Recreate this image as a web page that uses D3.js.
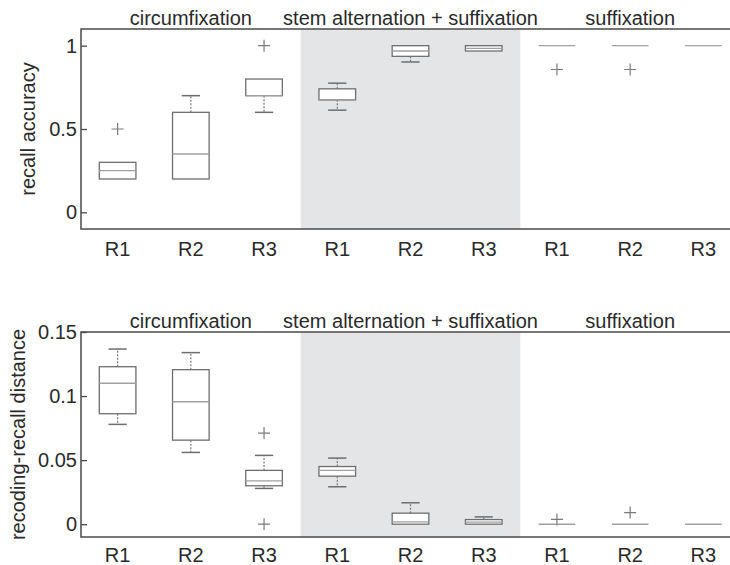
<!DOCTYPE html>
<html>
<head>
<meta charset="utf-8">
<script src="https://cdn.jsdelivr.net/npm/d3@7"></script>
<style>
    body { margin: 0; background: #fff; }
    svg { display: block; font-family: "Liberation Sans", Arial, Helvetica, sans-serif; }
    .tick text, .label, .group-title { fill: #2a2a2a; font-size: 20px; }
</style>
</head>
<body>
<div id="chart"></div>
<script>
// Categories
const groups = ['circumfixation', 'stem alternation + suffixation', 'suffixation'];
const rounds = ['R1', 'R2', 'R3'];
const shadedGroup = 1;

// Recall accuracy (top panel), one value per group x round
const accLow    = [0.20, 0.20, 0.60, 0.613, 0.902, 0.968, 1, 1, 1];
const accQ1     = [0.20, 0.20, 0.70, 0.675, 0.936, 0.968, 1, 1, 1];
const accMedian = [0.25, 0.35, 0.70, 0.675, 0.968, 0.984, 1, 1, 1];
const accQ3     = [0.30, 0.60, 0.80, 0.741, 1.000, 1.000, 1, 1, 1];
const accHigh   = [0.30, 0.70, 0.80, 0.775, 1.000, 1.000, 1, 1, 1];
const accOutliers = [[0.5], [], [1.0], [], [], [], [0.857], [0.857], []];
const accTicks = [0, 0.5, 1];

// Recoding-recall distance (bottom panel)
const distLow    = [0.0779, 0.0560, 0.0279, 0.0292, 0, 0, 0, 0, 0];
const distQ1     = [0.0862, 0.0656, 0.0300, 0.0375, 0, 0, 0, 0, 0];
const distMedian = [0.1100, 0.0956, 0.0338, 0.0420, 0.0018, 0.0016, 0, 0, 0];
const distQ3     = [0.1229, 0.1206, 0.0420, 0.0450, 0.0086, 0.0036, 0, 0, 0];
const distHigh   = [0.1367, 0.1339, 0.0537, 0.0516, 0.0167, 0.0057, 0, 0, 0];
const distOutliers = [[], [], [0.0711, 0], [], [], [], [0.0037], [0.0091], []];
const distTicks = [0, 0.05, 0.1, 0.15];

const config = {
    width: 730,
    height: 565,
    left: 81,
    right: 740,          // plot continues past the window edge, like the source
    colors: {
        band: '#e4e5e7',
        frame: '#4a4a4a',
        box: '#6e6e6e',
        median: '#a0a0a0',
        whisker: '#777',
        outlier: '#7a7a7a'
    }
};

const panels = [
    {
        top: 29, bottom: 229, domain: [-0.1, 1.1], ticks: accTicks,
        label: 'recall accuracy', labelX: 35, xPad: 13,
        low: accLow, q1: accQ1, median: accMedian, q3: accQ3, high: accHigh, outliers: accOutliers
    },
    {
        top: 332, bottom: 537, domain: [-0.01, 0.15], ticks: distTicks,
        label: 'recoding-recall distance', labelX: 25, xPad: 11,
        low: distLow, q1: distQ1, median: distMedian, q3: distQ3, high: distHigh, outliers: distOutliers
    }
];

const categories = [];
groups.forEach((g, gi) => rounds.forEach(r => categories.push({ key: gi + '-' + r, group: gi, round: r })));

const svg = d3.select('#chart')
    .append('svg')
    .attr('width', config.width)
    .attr('height', config.height);

const x = d3.scaleBand()
    .domain(categories.map(d => d.key))
    .range([config.left, config.right])
    .padding(0);

const groupX = d3.scaleBand()
    .domain(groups)
    .range([config.left, config.right])
    .padding(0);

const boxW = x.bandwidth() * 0.5;
const capW = boxW * 0.5;

panels.forEach(p => {
    const y = d3.scaleLinear().domain(p.domain).range([p.bottom, p.top]);
    const g = svg.append('g');

    // shaded group background
    g.append('rect')
        .attr('x', groupX(groups[shadedGroup]))
        .attr('y', p.top)
        .attr('width', groupX.bandwidth())
        .attr('height', p.bottom - p.top)
        .attr('fill', config.colors.band);

    // group titles above the plot
    g.selectAll('.group-title')
        .data(groups)
        .enter().append('text')
        .attr('class', 'group-title')
        .attr('x', d => groupX(d) + groupX.bandwidth() / 2)
        .attr('y', p.top - 4)
        .attr('text-anchor', 'middle')
        .text(d => d);

    const boxes = g.selectAll('.box')
        .data(categories)
        .enter().append('g')
        .attr('class', 'box')
        .attr('transform', d => `translate(${x(d.key) + x.bandwidth() / 2},0)`);

    // whiskers (dotted)
    boxes.append('line')
        .attr('y1', (d, i) => y(p.q3[i])).attr('y2', (d, i) => y(p.high[i]))
        .attr('stroke', config.colors.whisker).attr('stroke-width', 1.2)
        .attr('stroke-dasharray', '2,1.5');
    boxes.append('line')
        .attr('y1', (d, i) => y(p.q1[i])).attr('y2', (d, i) => y(p.low[i]))
        .attr('stroke', config.colors.whisker).attr('stroke-width', 1.2)
        .attr('stroke-dasharray', '2,1.5');

    // caps, only where the whisker sticks out of the box
    boxes.filter((d, i) => p.high[i] > p.q3[i]).append('line')
        .attr('x1', -capW / 2).attr('x2', capW / 2)
        .attr('y1', d => y(p.high[categories.indexOf(d)]))
        .attr('y2', d => y(p.high[categories.indexOf(d)]))
        .attr('stroke', config.colors.box).attr('stroke-width', 1.5);
    boxes.filter((d, i) => p.low[i] < p.q1[i]).append('line')
        .attr('x1', -capW / 2).attr('x2', capW / 2)
        .attr('y1', d => y(p.low[categories.indexOf(d)]))
        .attr('y2', d => y(p.low[categories.indexOf(d)]))
        .attr('stroke', config.colors.box).attr('stroke-width', 1.5);

    // boxes
    boxes.filter((d, i) => p.q3[i] > p.q1[i]).append('rect')
        .attr('x', -boxW / 2)
        .attr('width', boxW)
        .attr('y', d => y(p.q3[categories.indexOf(d)]))
        .attr('height', d => {
            const i = categories.indexOf(d);
            return y(p.q1[i]) - y(p.q3[i]);
        })
        .attr('fill', '#fff')
        .attr('stroke', config.colors.box)
        .attr('stroke-width', 1.3);

    // medians
    boxes.append('line')
        .attr('x1', -boxW / 2).attr('x2', boxW / 2)
        .attr('y1', (d, i) => y(p.median[i])).attr('y2', (d, i) => y(p.median[i]))
        .attr('stroke', config.colors.median).attr('stroke-width', 1.4);

    // outliers as plus signs
    boxes.selectAll('.outlier')
        .data((d, i) => p.outliers[i])
        .enter().append('path')
        .attr('class', 'outlier')
        .attr('d', v => `M-6,${y(v)}H6M0,${y(v) - 6}V${y(v) + 6}`)
        .attr('stroke', config.colors.outlier)
        .attr('stroke-width', 1.2)
        .attr('fill', 'none');

    // frame
    g.append('rect')
        .attr('x', config.left).attr('y', p.top)
        .attr('width', config.right - config.left)
        .attr('height', p.bottom - p.top)
        .attr('fill', 'none')
        .attr('stroke', config.colors.frame)
        .attr('stroke-width', 1.5);

    // y axis with inward ticks
    const yAxis = g.append('g')
        .attr('transform', `translate(${config.left},0)`)
        .call(d3.axisLeft(y)
            .tickValues(p.ticks)
            .tickFormat(d3.format('~g'))
            .tickSizeInner(-6)
            .tickSizeOuter(0)
            .tickPadding(4));
    yAxis.select('.domain').remove();
    yAxis.selectAll('.tick line').attr('stroke', config.colors.frame).attr('stroke-width', 1.3);
    yAxis.selectAll('.tick text').attr('font-size', 20).attr('font-family', null);

    // x axis: round labels only
    const xAxis = g.append('g')
        .attr('transform', `translate(0,${p.bottom})`)
        .call(d3.axisBottom(x)
            .tickFormat(k => categories.find(c => c.key === k).round)
            .tickSize(0)
            .tickPadding(p.xPad));
    xAxis.select('.domain').remove();
    xAxis.selectAll('.tick text').attr('font-size', 20).attr('font-family', null);

    // y label
    g.append('text')
        .attr('class', 'label')
        .attr('transform', `translate(${p.labelX},${(p.top + p.bottom) / 2}) rotate(-90)`)
        .attr('text-anchor', 'middle')
        .text(p.label);
});
</script>
</body>
</html>
